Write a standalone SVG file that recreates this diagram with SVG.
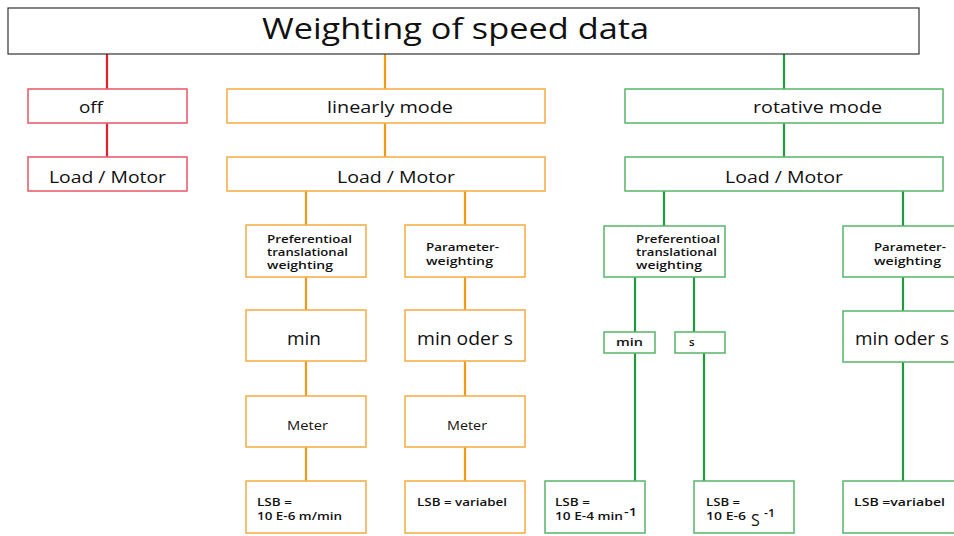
<svg xmlns="http://www.w3.org/2000/svg" width="954" height="536" viewBox="0 0 954 536">
<style>
text{font-family:"Open Sans","Liberation Sans",sans-serif;fill:#111}
.t{font-size:30px}
.m{font-size:17px}
.b{font-size:18px}
.s{font-size:10.5px;font-weight:600}
.l{font-size:11.5px;font-weight:600}
.me{font-size:13px}
.rb{fill:#fff;stroke:#e8606c;stroke-width:1.6}
.ob{fill:#fff;stroke:#f7b04e;stroke-width:1.6}
.gb{fill:#fff;stroke:#62b874;stroke-width:1.6}
.rl{stroke:#e2202c;stroke-width:2.2;fill:none}
.ol{stroke:#f39a14;stroke-width:2.2;fill:none}
.gl{stroke:#1f9a3c;stroke-width:2.2;fill:none}
</style>
<rect width="954" height="536" fill="#fff"/>
<g id="connectors">
<path class="rl" d="M107 54V89M107 123V157"/>
<path class="ol" d="M385 54V89M385 123V157M306 191V225M465 191V225M306 277V310M465 277V310M306 361V396M465 361V396M306 447V481M465 447V481"/>
<path class="gl" d="M784 54V89M784 123V157M664 191V226M903 191V226M635 277V332M694 277V332M635 353V481M704 353V481M903 277V311M903 362V481"/>
</g>
<g id="title"><rect x="8" y="8" width="911" height="46" fill="#fff" stroke="#333" stroke-width="1.2"/><text class="t" x="262" y="39" textLength="387" lengthAdjust="spacingAndGlyphs">Weighting of speed data</text></g>
<g id="off"><rect class="rb" x="28" y="89" width="159" height="34"/><text class="m" x="79" y="113" textLength="24" lengthAdjust="spacingAndGlyphs">off</text></g>
<g id="off-load"><rect class="rb" x="28" y="157" width="159" height="34"/><text class="m" x="49" y="183" textLength="117" lengthAdjust="spacingAndGlyphs">Load / Motor</text></g>
<g id="linear"><rect class="ob" x="227" y="89" width="318" height="34"/><text class="m" x="327" y="113" textLength="126" lengthAdjust="spacingAndGlyphs">linearly mode</text></g>
<g id="lin-load"><rect class="ob" x="227" y="157" width="318" height="34"/><text class="m" x="337" y="183" textLength="118" lengthAdjust="spacingAndGlyphs">Load / Motor</text></g>
<g id="lin-pref"><rect class="ob" x="246" y="225" width="120" height="52"/><text class="s" x="267" y="243" textLength="85" lengthAdjust="spacingAndGlyphs">Preferentioal</text><text class="s" x="267" y="256" textLength="81" lengthAdjust="spacingAndGlyphs">translational</text><text class="s" x="267" y="269" textLength="66" lengthAdjust="spacingAndGlyphs">weighting</text></g>
<g id="lin-param"><rect class="ob" x="405" y="225" width="120" height="52"/><text class="s" x="426" y="251" textLength="73" lengthAdjust="spacingAndGlyphs">Parameter-</text><text class="s" x="426" y="265" textLength="67" lengthAdjust="spacingAndGlyphs">weighting</text></g>
<g id="lin-min"><rect class="ob" x="246" y="310" width="120" height="51"/><text class="b" x="287" y="345" textLength="34" lengthAdjust="spacingAndGlyphs">min</text></g>
<g id="lin-mins"><rect class="ob" x="405" y="310" width="120" height="51"/><text class="b" x="417" y="345" textLength="96" lengthAdjust="spacingAndGlyphs">min oder s</text></g>
<g id="lin-meter1"><rect class="ob" x="246" y="396" width="120" height="51"/><text class="me" x="287" y="430" textLength="41" lengthAdjust="spacingAndGlyphs">Meter</text></g>
<g id="lin-meter2"><rect class="ob" x="405" y="396" width="120" height="51"/><text class="me" x="447" y="430" textLength="40" lengthAdjust="spacingAndGlyphs">Meter</text></g>
<g id="lin-lsb1"><rect class="ob" x="246" y="481" width="120" height="52"/><text class="l" x="257" y="506" textLength="35" lengthAdjust="spacingAndGlyphs">LSB =</text><text class="l" x="257" y="520" textLength="85" lengthAdjust="spacingAndGlyphs">10 E-6 m/min</text></g>
<g id="lin-lsb2"><rect class="ob" x="405" y="481" width="120" height="52"/><text class="l" x="417" y="506" textLength="90" lengthAdjust="spacingAndGlyphs">LSB = variabel</text></g>
<g id="rot"><rect class="gb" x="625" y="89" width="318" height="34"/><text class="m" x="753" y="113" textLength="129" lengthAdjust="spacingAndGlyphs">rotative mode</text></g>
<g id="rot-load"><rect class="gb" x="625" y="157" width="318" height="34"/><text class="m" x="725" y="183" textLength="118" lengthAdjust="spacingAndGlyphs">Load / Motor</text></g>
<g id="rot-pref"><rect class="gb" x="604" y="226" width="121" height="51"/><text class="s" x="636" y="243" textLength="84" lengthAdjust="spacingAndGlyphs">Preferentioal</text><text class="s" x="636" y="256" textLength="81" lengthAdjust="spacingAndGlyphs">translational</text><text class="s" x="636" y="269" textLength="66" lengthAdjust="spacingAndGlyphs">weighting</text></g>
<g id="rot-param"><rect class="gb" x="843" y="226" width="125" height="51"/><text class="s" x="874" y="251" textLength="72" lengthAdjust="spacingAndGlyphs">Parameter-</text><text class="s" x="874" y="265" textLength="67" lengthAdjust="spacingAndGlyphs">weighting</text></g>
<g id="rot-min"><rect class="gb" x="604" y="332" width="51" height="21"/><text class="l" x="616" y="346" textLength="27" lengthAdjust="spacingAndGlyphs">min</text></g>
<g id="rot-s"><rect class="gb" x="675" y="332" width="50" height="21"/><text class="l" x="689" y="346">s</text></g>
<g id="rot-mins"><rect class="gb" x="843" y="311" width="125" height="51"/><text class="b" x="855" y="345" textLength="94" lengthAdjust="spacingAndGlyphs">min oder s</text></g>
<g id="rot-lsb1"><rect class="gb" x="545" y="481" width="100" height="52"/><text class="l" x="555" y="506" textLength="35" lengthAdjust="spacingAndGlyphs">LSB =</text><text class="l" x="555" y="520" textLength="68" lengthAdjust="spacingAndGlyphs">10 E-4 min</text><text class="l" x="624" y="516" textLength="13" lengthAdjust="spacingAndGlyphs">-1</text></g>
<g id="rot-lsb2"><rect class="gb" x="694" y="481" width="100" height="52"/><text class="l" x="706" y="506" textLength="34" lengthAdjust="spacingAndGlyphs">LSB =</text><text class="l" x="706" y="520" textLength="40" lengthAdjust="spacingAndGlyphs">10 E-6</text><text x="751" y="526" style="font-size:16px">S</text><text class="l" x="764" y="517" textLength="11" lengthAdjust="spacingAndGlyphs">-1</text></g>
<g id="rot-lsb3"><rect class="gb" x="843" y="481" width="125" height="52"/><text class="l" x="854" y="506" textLength="91" lengthAdjust="spacingAndGlyphs">LSB =variabel</text></g>
</svg>
